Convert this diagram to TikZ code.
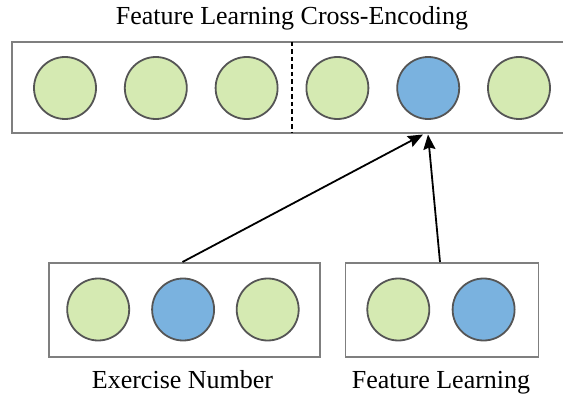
\documentclass[tikz,border=0pt]{standalone}
\usepackage{fontspec}
\setmainfont{Liberation Serif}
\usetikzlibrary{arrows.meta}
\definecolor{cgreen}{HTML}{D5EAB2}
\definecolor{cblue}{HTML}{7AB2DF}
\definecolor{cedge}{HTML}{555555}
\definecolor{bedge}{HTML}{7F7F7F}
\tikzset{
  unit/.style={circle, draw=cedge, line width=1.8pt, minimum size=62pt, inner sep=0pt},
  gunit/.style={unit, fill=cgreen},
  bunit/.style={unit, fill=cblue},
  panel/.style={draw=bedge, line width=1.8pt, rectangle, inner sep=0pt},
  lbl/.style={font=\fontsize{26}{30}\selectfont, anchor=base, inner sep=0pt},
  arr/.style={-{Stealth[length=15pt,width=12pt,inset=2pt]}, line width=1.8pt, black},
}
\begin{document}
\begin{tikzpicture}[x=1pt,y=-1pt]
\useasboundingbox (0,0) rectangle (563,396);
% top panel (open to the right, runs past the edge)
\node[minimum width=551pt, minimum height=91pt, anchor=north west, inner sep=0pt] (top) at (12,42) {};
\draw[draw=bedge, line width=1.8pt] (top.north east) -- (top.north west) -- (top.south west) -- (top.south east);
\node[gunit] (t1) at (65,88) {};
\node[gunit] (t2) at (155.8,88) {};
\node[gunit] (t3) at (246.6,88) {};
\node[gunit] (t4) at (337.4,88) {};
\node[bunit] (t5) at (428.2,88) {};
\node[gunit] (t6) at (519,88) {};
\coordinate (dtop) at (292,42);
\coordinate (dbot) at (292,133);
\draw[line width=1.8pt, dash pattern=on 4.5pt off 3pt] (dtop) -- (dbot);
\node[lbl] (title) at (292,25) {Feature Learning Cross-Encoding};
% bottom left panel
\node[panel, minimum width=271pt, minimum height=94pt, anchor=north west] (bl) at (48,262) {};
\node[gunit] (b1) at (98.2,309.5) {};
\node[bunit] (b2) at (183.1,309.5) {};
\node[gunit] (b3) at (267.7,309.5) {};
\node[lbl] (ltxt) at (182.5,388) {Exercise Number};
% bottom right panel
\node[panel, minimum width=193pt, minimum height=94pt, anchor=north west] (br) at (344.5,262) {};
\node[gunit] (c1) at (398.3,309.5) {};
\node[bunit] (c2) at (483.6,309.5) {};
\node[lbl] (rtxt) at (441,388) {Feature Learning};
% arrows
\coordinate (e1) at (423,134.5);
\coordinate (e2) at (428,134.5);
\draw[arr] (bl.north -| 182.5,0) -- (e1);
\draw[arr] (br.north -| 440,0) -- (e2);
\end{tikzpicture}
\end{document}
